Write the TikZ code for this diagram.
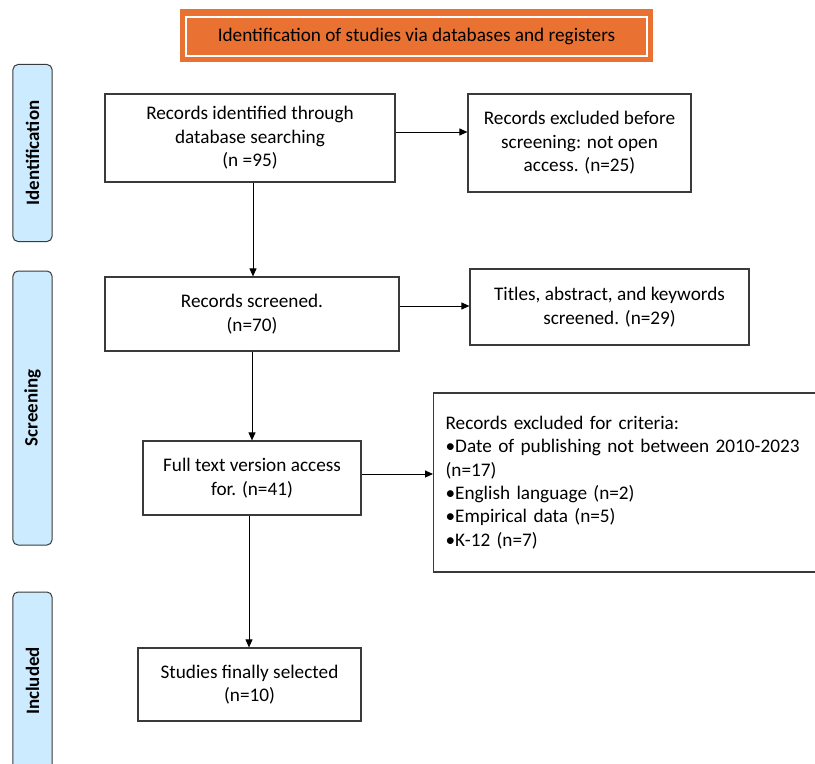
\documentclass[tikz,border=0pt]{standalone}
\usepackage{fontspec}
\setmainfont{Carlito}
\usetikzlibrary{arrows.meta,calc}
\definecolor{hdrorange}{HTML}{E97132}
\definecolor{barblue}{HTML}{CDEBFF}
\definecolor{edgegray}{HTML}{3A3A3A}
\begin{document}
\begin{tikzpicture}[x=1bp,y=-1bp,
  txt/.style={font=\fontsize{19.3}{23.5}\selectfont},
  box/.style={txt,draw=edgegray,line width=1.2bp,inner sep=0pt,align=center,fill=white},
  bar/.style={draw=edgegray,line width=1bp,fill=barblue,rounded corners=5bp,rotate=90,
              minimum height=39bp,inner sep=0pt,font=\fontsize{19}{22}\selectfont\bfseries},
  arr/.style={-{Triangle[length=8bp,width=7bp]},line width=1bp,black}]
\useasboundingbox (0,0) rectangle (815,764);
\clip (0,0) rectangle (815,764);
\fill[white] (0,0) rectangle (815,764);
% header
\node[fill=hdrorange,minimum width=473bp,minimum height=53bp,inner sep=0pt] (hdr) at (416.5,35.5) {};
\node[txt,draw=white,line width=2bp,minimum width=461bp,minimum height=39bp,inner sep=0pt] (hdrtxt) at (416.5,36.5)
  {Identification of studies via databases and registers};
% side bars
\node[bar,minimum width=177bp] (bid) at (32.5,153) {Identification};
\node[bar,minimum width=274bp] (bsc) at (32.5,408) {Screening};
\node[bar,minimum width=178bp] (bin) at (32.5,681) {Included};
% boxes
\node[box,minimum width=290bp,minimum height=88bp] (b1) at (250,138)
  {Records identified through\\database searching\\(n =95)};
\node[box,minimum width=223bp,minimum height=98bp] (b2) at (579.5,143)
  {Records excluded before\\screening: not open\\access. (n=25)};
\node[box,minimum width=294bp,minimum height=74bp] (b3) at (252,314)
  {Records screened.\\(n=70)};
\node[box,minimum width=279bp,minimum height=76bp] (b4) at (609.5,307)
  {Titles, abstract, and keywords\\screened. (n=29)};
\node[box,minimum width=218bp,minimum height=74bp] (b5) at (252,478)
  {Full text version access\\for. (n=41)};
\node[box,minimum width=400bp,minimum height=179bp,align=left,text width=376bp,inner xsep=12bp,anchor=west] (b6) at (433,482.5)
  {Records excluded for criteria:\\•Date of publishing not between 2010-2023\\(n=17)\\•English language (n=2)\\•Empirical data (n=5)\\•K-12 (n=7)\\[8bp]};
\node[box,minimum width=223bp,minimum height=73bp] (b7) at (249.5,684.5)
  {Studies finally selected\\(n=10)};
% helper coordinates
\coordinate (r1) at (0,132);
\coordinate (r2) at (0,306);
\coordinate (r3) at (0,474);
\coordinate (c1) at (253,0);
\coordinate (c2) at (252,0);
\coordinate (c3) at (249,0);
% connectors
\draw[arr] (b1.east |- r1) -- (b2.west |- r1);
\draw[arr] (b3.east |- r2) -- (b4.west |- r2);
\draw[arr] (b5.east |- r3) -- (b6.west |- r3);
\draw[arr] (b1.south -| c1) -- (b3.north -| c1);
\draw[arr] (b3.south -| c2) -- (b5.north -| c2);
\draw[arr] (b5.south -| c3) -- (b7.north -| c3);
\end{tikzpicture}
\end{document}
